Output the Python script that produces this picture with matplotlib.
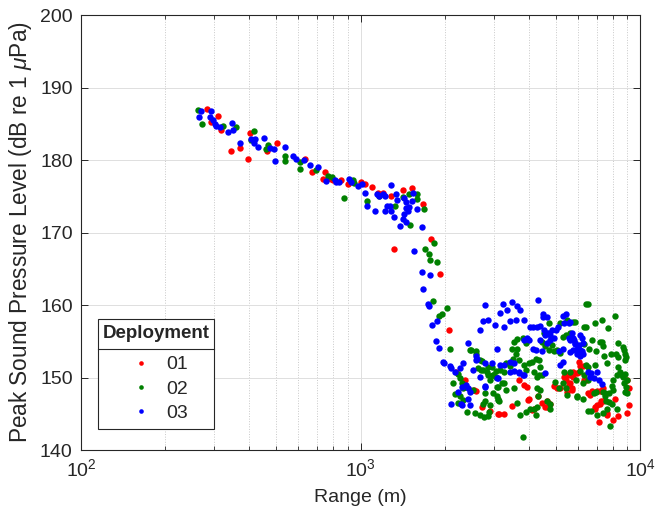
import matplotlib
matplotlib.use("Agg")
import matplotlib.pyplot as plt
from matplotlib.lines import Line2D
from matplotlib.patches import Rectangle
from matplotlib.ticker import LogLocator, FixedLocator

plt.rcParams['font.family'] = ['Liberation Sans', 'DejaVu Sans']
plt.rcParams['mathtext.fontset'] = 'custom'
plt.rcParams['mathtext.rm'] = 'Liberation Sans'
plt.rcParams['mathtext.it'] = 'Liberation Sans:italic'

# ---------------- data ----------------
deployments = ['01', '02', '03']
colors = ['#ff0000', '#008000', '#0000ff']
legend_title = 'Deployment'

range_01 = [282, 293, 309, 317, 345, 371, 397, 403, 462, 503, 633, 668, 733, 747, 784, 795, 851,
            903, 1002, 1039, 1102, 1157, 1203, 1288, 1425, 1530, 1670, 1790, 1318, 1925,
            2070, 2200, 2360, 2600, 2730, 2910, 3110, 2465, 2550, 3140, 3250, 3480, 3700, 3850,
            4010, 4120, 4330, 4460, 4630, 4630, 4770, 4920, 5060, 5180, 5360, 5480, 5620, 6040,
            6100, 6270, 6390, 6520, 5780, 5960, 5700, 5620, 6300, 6640, 6760, 6900, 7010, 7250,
            7600, 7640, 7980, 8320, 7110, 8130, 9010, 9130, 9130, 9010, 3970, 4170, 5440, 5570,
            5480, 5780, 6040, 5700, 7010, 7200, 7400, 6900, 7200, 7400, 3930, 4590]
spl_01 = [187.0, 185.3, 186.1, 184.1, 181.2, 181.7, 180.2, 183.7, 181.3, 182.3, 180.2, 178.3, 177.4,
          178.3, 177.4, 177.2, 177.2, 176.7, 177.0, 176.7, 176.3, 175.4, 175.5, 175.0, 175.8, 176.1,
          173.9, 169.1, 167.7, 164.3,
          156.5, 150.7, 149.7, 148.2, 146.0, 145.4, 145.0, 148.3, 148.3, 145.0, 145.0, 146.1, 149.7,
          149.0, 147.0, 145.5, 147.4, 146.5, 146.7, 146.0, 146.4, 148.8, 148.6, 148.6, 150.1, 150.3,
          150.3, 152.2, 151.6, 151.6, 149.7, 147.8, 150.1, 150.6, 148.5, 149.2, 149.7, 147.6, 148.2,
          146.0, 146.2, 146.7, 145.1, 144.8, 144.2, 144.7, 143.9, 147.1, 149.6, 148.5, 146.2, 145.1,
          146.9, 145.7, 149.7, 149.0, 148.0, 150.8, 150.8, 148.3, 148.1, 148.1, 148.5, 145.7, 146.4,
          146.7, 148.7, 146.0]

range_02 = [262, 272, 323, 359, 417, 407, 467, 459, 536, 536, 610, 610, 692, 768, 791, 875, 940,
            950, 1053, 1165, 1330, 1420, 1490, 1590, 1590, 1505, 1690, 1830, 1700, 1755, 1780, 1880,
            1810, 2045, 1910, 1960, 2090,
            2240, 2140, 2270, 2300, 2330, 2360, 2180, 2270, 2330, 2410, 2480, 2600, 2700, 2710, 2850,
            2840, 2950, 2980, 3050, 2900, 2780, 2990, 3080, 2570, 2680, 2770, 2870, 2890, 3110, 2240,
            2465, 2590, 2680, 2630, 2740, 2860, 2990, 3060, 3150, 3250, 3430, 3320, 3510, 3600, 3640,
            3480, 3530, 3640, 3820, 3920, 3700, 3850, 4010, 4120, 4240, 4360, 3920, 4170, 4270, 4370,
            4460, 4590, 4720, 4860, 4920, 5060, 5180, 5300, 5440, 5620, 5780, 5180, 5480, 4720, 4550,
            5890, 6100, 6390, 6300, 6520, 6390, 6300, 5620, 5360, 4980, 5300, 5440,
            2530, 2800, 2740, 2910, 3070, 3110, 3250, 3140, 3310, 3530, 3640, 3720, 3900, 4030, 4170,
            4270, 4390, 4240, 4770, 4270, 4330, 5120, 5480, 5970, 3800,
            6520, 8130, 7300, 6900, 7700, 6390, 5830, 6760, 7200, 7300, 7360, 6300, 6560, 6980, 7460,
            7860, 8350, 8700, 8760, 8850, 8920, 8850, 8200, 8370, 7640, 6900, 6520, 8370, 8490, 8280,
            8030, 8590, 8700, 8850, 8960, 8760, 8920, 8850, 8960, 7920, 8030, 7770, 7400, 7520, 6980,
            6820, 6230, 5960, 6230, 7520, 7580, 7770, 7920, 8280, 6520, 6690, 7010, 7360, 7600, 7815,
            3200, 3110, 4360, 4460, 4660, 4760]
spl_02 = [186.9, 185.0, 184.7, 184.6, 184.0, 182.8, 182.1, 181.5, 180.6, 179.8, 179.7, 178.8, 178.6,
          177.8, 177.7, 174.8, 177.2, 176.8, 174.3, 175.1, 173.7, 174.9, 175.3, 175.3, 174.6, 171.0,
          173.2, 168.5, 167.7, 167.0, 166.2, 165.9,
          160.5, 159.6, 158.5, 158.7, 154.0,
          150.5, 149.3, 149.9, 149.2, 148.5, 148.7, 147.7, 147.4, 146.9, 145.3, 153.8, 153.3, 151.1,
          152.3, 151.4, 150.8, 151.5, 150.3, 150.9, 149.7, 147.8, 147.8, 148.7, 145.1, 144.8, 144.5,
          144.7, 145.3, 147.0, 146.5,
          153.8, 153.6, 152.4, 151.3, 151.0, 150.3, 150.3, 150.1, 151.1, 150.7, 151.6, 152.0, 152.6,
          153.3, 154.0, 154.0, 154.9, 155.3, 155.4, 154.7, 152.4, 151.7, 152.0, 152.2, 152.6, 152.4,
          151.0, 150.8, 150.1, 151.4, 154.9, 154.3, 153.8, 154.5, 153.6, 153.8, 153.4, 155.6, 155.9,
          156.1, 157.7, 157.5, 157.9, 157.5, 156.1,
          149.7, 150.9, 151.7, 150.3, 149.7, 160.2, 157.0, 150.8, 150.8, 149.4, 149.2, 148.5,
          148.3, 146.8, 146.3, 146.2, 147.4, 148.7, 149.3, 146.8, 148.3, 148.6, 146.5, 144.8, 145.3,
          145.7, 145.7, 148.5, 148.3, 144.8, 145.7, 146.0, 147.4, 148.5, 147.6, 147.4, 141.8,
          160.1, 158.5, 158.0, 157.5, 156.8, 156.9, 157.7, 155.2, 154.9, 154.9, 154.3, 154.6, 154.0,
          153.6, 152.9, 153.2, 154.7, 154.2, 153.8, 153.2, 152.8, 152.4, 153.2, 152.8, 152.0, 151.7,
          151.4, 151.4, 150.8, 150.3, 149.7, 150.3, 150.1, 150.5, 149.7, 149.2, 148.7, 148.0, 147.8,
          148.8, 148.3, 147.8, 148.0, 147.8, 148.0, 147.8, 149.2, 147.3, 147.0, 147.4, 146.8, 146.6,
          146.4, 145.7, 145.4, 145.4, 144.8, 145.1, 145.6, 143.3,
          149.2, 146.9, 150.3, 150.3, 146.8, 146.3]

range_03 = [268, 265, 291, 290, 296, 302, 305, 314, 335, 348, 349, 372, 405, 418, 417, 430, 453, 474,
            490, 495, 536, 572, 586, 628, 660, 707, 753, 810, 835, 818, 910, 923, 980, 1010, 1039,
            1058, 1127, 1142, 1165, 1203, 1222, 1288, 1240, 1222, 1275, 1282, 1318, 1340, 1350, 1430,
            1450, 1545, 1524, 1460, 1493, 1476, 1430, 1420, 1460, 1380, 1590, 1653, 1560, 1653, 1773,
            1670, 1748, 1760, 1880, 1805, 1858, 1910, 1970, 1985, 2090, 2110, 2330, 2270, 2180, 2420,
            2380, 2420, 2300, 2240, 2465, 2420, 2290, 2300, 2465, 2100,
            2590, 2620, 2590, 2530, 2680, 2800, 2950, 2780, 2800, 2800, 2740, 2870, 2680, 3090, 3230,
            3160, 3340, 3480, 3640, 3720, 3600, 3420, 3850, 4310, 4500, 4480, 3020, 3250, 4040, 4150,
            4270, 4390, 4520, 4630, 4720, 4860, 5000, 5100, 5300, 5440, 5550, 5620, 3930, 4020, 4140,
            4230, 4390, 4460, 4660, 4770, 4910, 5120, 5300, 5300, 5560, 5800, 5870, 5960, 5620, 6040,
            6100, 3110, 3250, 3430, 3530, 3700, 3850, 4630, 5360, 4590, 4770, 3850,
            5700, 5780, 5620, 5870, 6040, 6100, 6200, 6230, 5780, 5960, 6100, 6200, 6230, 6520, 6690,
            6600, 6820, 7010, 7140, 7300, 3160, 3430, 3530, 3680, 3820, 4590, 5180, 3070]
spl_03 = [186.7, 186.0, 186.7, 186.0, 185.5, 185.0, 184.7, 184.6, 183.9, 185.1, 184.1, 182.3, 182.9,
          182.9, 182.3, 181.8, 183.0, 181.6, 181.5, 179.8, 181.8, 180.5, 180.1, 180.0, 179.3, 179.1,
          177.1, 177.2, 176.9, 177.0, 177.4, 177.0, 176.4, 176.7, 175.5, 173.7, 173.0, 175.3, 175.1,
          175.3, 175.0, 176.5, 173.6, 173.0, 173.6, 173.0, 172.2, 175.3, 174.5, 174.7, 174.2, 175.5,
          174.3, 173.4, 173.5, 172.9, 172.6, 171.8, 171.4, 170.9, 173.2, 170.8, 167.5, 164.5, 164.2,
          162.2, 160.2, 159.9, 157.8, 157.2, 155.0, 154.1, 152.2, 152.0, 151.6, 151.3, 152.0, 151.3,
          150.7, 154.7, 149.0, 148.6, 148.7, 148.0, 148.0, 147.1, 146.4, 146.2, 146.2, 146.3,
          153.0, 152.6, 152.4, 151.0, 150.1, 152.0, 152.0, 148.8, 148.7, 160.0, 157.8, 158.0, 156.5,
          154.0, 160.1, 158.9, 159.3, 160.4, 159.8, 159.3, 158.0, 157.8, 158.0, 160.7, 158.7, 158.4,
          157.3, 156.9, 156.9, 156.9, 156.9, 157.1, 156.6, 156.1, 156.2, 156.6, 156.6, 157.0, 158.5,
          158.7, 157.5, 157.6, 155.4, 155.2, 154.0, 153.8, 155.2, 153.6, 154.7, 155.2, 155.4, 153.6,
          154.0, 152.2, 155.4, 155.2, 154.6, 154.0, 153.5, 153.5, 152.9, 150.0, 151.7, 152.2, 152.0,
          150.7, 150.3, 158.4, 157.5, 155.9, 155.9, 155.2,
          156.1, 155.4, 155.2, 154.7, 154.5, 153.8, 153.6, 153.3, 153.8, 153.3, 155.9, 155.4, 154.7,
          150.8, 150.6, 150.1, 149.9, 150.7, 149.7, 149.1, 151.7, 150.8, 150.9, 150.6, 150.3, 150.6,
          151.7, 149.9]

series_range = [range_01, range_02, range_03]
series_spl = [spl_01, spl_02, spl_03]

x_label = 'Range (m)'
y_label = r'Peak Sound Pressure Level (dB re 1 $\mu$Pa)'
y_ticks = [140, 150, 160, 170, 180, 190, 200]

# ---------------- figure ----------------
W, H = 671, 522
fig = plt.figure(figsize=(W / 100, H / 100), dpi=100)
AX_L, AX_R, AX_T, AX_B = 81, 640, 15, 450
ax = fig.add_axes([AX_L / W, 1 - AX_B / H, (AX_R - AX_L) / W, (AX_B - AX_T) / H])


def axx(px):
    return (px - AX_L) / (AX_R - AX_L)


def axy(py):
    return (AX_B - py) / (AX_B - AX_T)


for lab, col, xs, ys in zip(deployments, colors, series_range, series_spl):
    ax.plot(xs, ys, linestyle='none', marker='o', markersize=4.6, markeredgewidth=0,
            color=col, label=lab)

ax.set_xscale('log')
ax.set_xlim(100, 10000)
ax.set_ylim(140, 200)
ax.yaxis.set_major_locator(FixedLocator(y_ticks))
ax.xaxis.set_major_locator(LogLocator(base=10))
ax.xaxis.set_minor_locator(LogLocator(base=10, subs=range(2, 10)))

dark = '#262626'
for s in ax.spines.values():
    s.set_color(dark)
    s.set_linewidth(0.8)
ax.tick_params(which='both', direction='in', top=True, right=True, colors=dark,
               labelsize=14, labelcolor=dark)
ax.tick_params(which='major', length=5, width=0.7, pad=6)
ax.tick_params(which='minor', length=3, width=0.6)

ax.grid(True, which='major', color='#dedede', linewidth=0.7, linestyle='-')
ax.grid(True, which='minor', axis='x', color='#c8c8c8', linewidth=0.7, linestyle=':')
ax.set_axisbelow(True)

ax.set_xlabel(x_label, fontsize=14, color=dark, labelpad=6)
ax.set_ylabel(y_label, fontsize=16.3, color=dark, labelpad=4)

# legend: frame + title drawn as in MATLAB (title separated by a rule)
box_l, box_r, box_t, box_b, sep_y = 98, 214, 319, 429, 349
ax.add_patch(Rectangle((axx(box_l), axy(box_b)), axx(box_r) - axx(box_l),
                       axy(box_t) - axy(box_b), transform=ax.transAxes,
                       facecolor='white', edgecolor=dark, linewidth=0.8, zorder=5))
ax.add_artist(Line2D([axx(box_l), axx(box_r)], [axy(sep_y), axy(sep_y)],
                     transform=ax.transAxes, color=dark, linewidth=0.8, zorder=6))
ax.text(axx((box_l + box_r) / 2), axy((box_t + sep_y) / 2), legend_title,
        transform=ax.transAxes, ha='center', va='center', fontsize=13.5,
        fontweight='bold', color=dark, zorder=7)
leg = ax.legend(loc='center', bbox_to_anchor=(axx(159.5), axy(389)),
                borderaxespad=0, frameon=False, fontsize=14,
                handlelength=1.05, handletextpad=0.75, labelspacing=0.35, borderpad=0.2,
                markerscale=0.72)
leg.set_zorder(8)
for t in leg.get_texts():
    t.set_color(dark)

fig.savefig('out.png', dpi=100)
